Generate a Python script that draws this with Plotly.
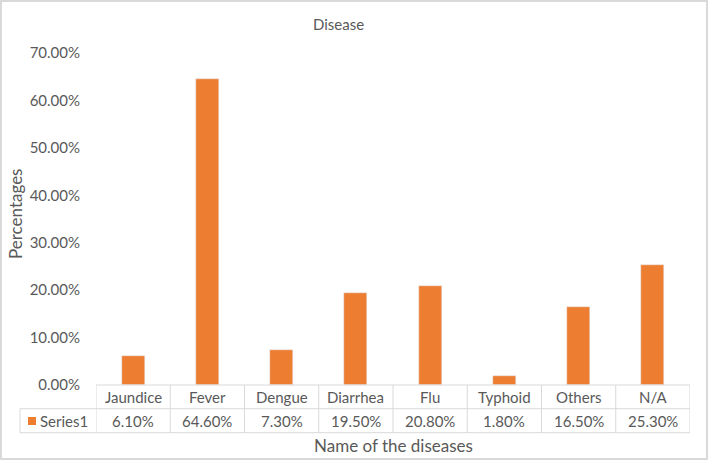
import plotly.graph_objects as go

categories = ["Jaundice", "Fever", "Dengue", "Diarrhea", "Flu", "Typhoid", "Others", "N/A"]
values = [0.061, 0.646, 0.073, 0.195, 0.208, 0.018, 0.165, 0.253]
value_labels = ["6.10%", "64.60%", "7.30%", "19.50%", "20.80%", "1.80%", "16.50%", "25.30%"]
series_name = "Series1"
tick_vals = [0, 0.1, 0.2, 0.3, 0.4, 0.5, 0.6, 0.7]

W, H = 708, 460
L, R, T, B = 96, 690, 53, 385
pw, ph = R - L, B - T

def px(x):
    return (x - L) / pw

def py(y):
    return (B - y) / ph

FONT = "Lato, Open Sans, sans-serif"
GRAY = "#595959"
LINE = "#D9D9D9"
ORANGE = "#ED7D31"

fig = go.Figure()
fig.add_trace(go.Bar(x=list(range(len(categories))), y=values, marker_color=ORANGE,
                     width=0.31, name=series_name, showlegend=False))

shapes = []
n = len(categories)
row1, row2 = 408.7, 432.7
shapes.append(dict(type="line", xref="x", yref="paper", x0=-0.5, x1=n - 0.5, y0=0, y1=0,
                   line=dict(color=LINE, width=1)))
for yy in (row1, row2):
    shapes.append(dict(type="line", xref="paper", yref="paper", x0=px(20), x1=1, y0=py(yy), y1=py(yy),
                       line=dict(color=LINE, width=1)))
shapes.append(dict(type="line", xref="paper", yref="paper", x0=px(20), x1=px(20), y0=py(row1), y1=py(row2),
                   line=dict(color=LINE, width=1)))
for i in range(n + 1):
    shapes.append(dict(type="line", xref="x", yref="paper", x0=i - 0.5, x1=i - 0.5, y0=0, y1=py(row2),
                       line=dict(color=LINE, width=1)))
shapes.append(dict(type="rect", xref="paper", yref="paper", x0=px(28), x1=px(36), y0=py(425), y1=py(417),
                   fillcolor=ORANGE, line=dict(width=0)))
shapes.append(dict(type="rect", xref="paper", yref="paper", x0=px(1), x1=px(707), y0=py(459), y1=py(1),
                   line=dict(color=LINE, width=2), fillcolor="rgba(0,0,0,0)"))

annotations = []
for i, c in enumerate(categories):
    annotations.append(dict(x=i, y=py((B + row1) / 2), xref="x", yref="paper", text=c, showarrow=False,
                            font=dict(family=FONT, size=15, color=GRAY), xanchor="center", yanchor="middle"))
    annotations.append(dict(x=i, y=py((row1 + row2) / 2), xref="x", yref="paper", text=value_labels[i],
                            showarrow=False, font=dict(family=FONT, size=15, color=GRAY),
                            xanchor="center", yanchor="middle"))
annotations.append(dict(x=px(38), y=py((row1 + row2) / 2), xref="paper", yref="paper", text=series_name,
                        showarrow=False, font=dict(family=FONT, size=15, color=GRAY),
                        xanchor="left", yanchor="middle"))
annotations.append(dict(x=px(393), y=py(445), xref="paper", yref="paper", text="Name of the diseases",
                        showarrow=False, font=dict(family=FONT, size=17, color=GRAY),
                        xanchor="center", yanchor="middle"))
annotations.append(dict(x=px(15), y=py(214), xref="paper", yref="paper", text="Percentages",
                        showarrow=False, textangle=-90, font=dict(family=FONT, size=17, color=GRAY),
                        xanchor="center", yanchor="middle"))
annotations.append(dict(x=px(338), y=py(24), xref="paper", yref="paper", text="Disease",
                        showarrow=False, font=dict(family=FONT, size=15, color=GRAY),
                        xanchor="center", yanchor="middle"))

fig.update_layout(
    width=W, height=H,
    margin=dict(l=L, r=W - R, t=T, b=H - B, pad=0),
    paper_bgcolor="white", plot_bgcolor="white",
    xaxis=dict(range=[-0.5, n - 0.5], showticklabels=False, showgrid=False, zeroline=False,
               showline=False, ticks=""),
    yaxis=dict(range=[0, 0.7], tickvals=tick_vals, tickformat=".2%", showgrid=False, zeroline=False,
               showline=False, ticks="", ticklabelstandoff=15,
               tickfont=dict(family=FONT, size=15, color=GRAY)),
    shapes=shapes, annotations=annotations, bargap=0,
)

fig.write_html("out.html", config={"displayModeBar": False},
               post_script="document.body.style.margin='0';document.body.style.overflow='hidden';")
